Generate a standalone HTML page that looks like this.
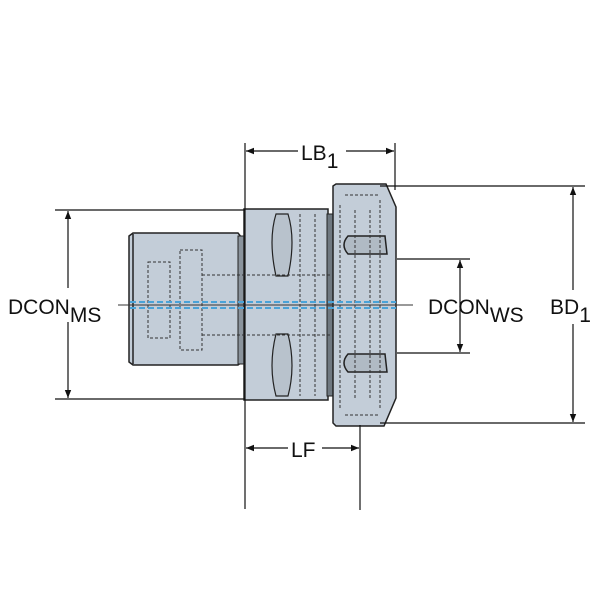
<!DOCTYPE html>
<html><head><style>
html,body{margin:0;padding:0;background:#fff;}
svg{display:block}
text{font-family:"Liberation Sans",Arial,sans-serif;fill:#111}
</style></head><body>
<svg width="600" height="600" viewBox="0 0 600 600" xmlns="http://www.w3.org/2000/svg">
<defs>
<marker id="a" viewBox="0 0 10 10" refX="10" refY="5" markerWidth="10" markerHeight="8" orient="auto-start-reverse" markerUnits="userSpaceOnUse"><path d="M0,1 L10,5 L0,9 Z" fill="#111"/></marker>
</defs>
<!-- shank -->
<path d="M129,236 L133,233 L238,233 L242,238 L242,362 L238,365 L133,365 L129,362 Z" fill="#c3cdd8" stroke="#222" stroke-width="1.5"/>
<line x1="133" y1="234" x2="133" y2="364" stroke="#222" stroke-width="1.5"/>
<rect x="238" y="236" width="6" height="128" fill="#8a939c" stroke="#222" stroke-width="1"/>
<!-- body -->
<rect x="244" y="209" width="84" height="191" fill="#c3cdd8" stroke="#222" stroke-width="1.5"/>
<rect x="327" y="214" width="6" height="182" fill="#6f7880" stroke="#222" stroke-width="1"/>
<path d="M276,214 Q268,240 276,276 L288,276 Q296,240 288,214 Z" fill="#b8c2cc" stroke="#222" stroke-width="1.2"/>
<path d="M276,334 Q268,366 276,396 L288,396 Q296,366 288,334 Z" fill="#b8c2cc" stroke="#222" stroke-width="1.2"/>
<!-- flange -->
<path d="M333,186 L336,184 L386,184 L396,207 L396,398 L384,426 L336,426 L333,423 Z" fill="#c3cdd8" stroke="#222" stroke-width="1.5"/>
<path d="M348,236 L385,236 L387,254 L348,254 Q340,245 348,236 Z" fill="#b0bac4" stroke="#222" stroke-width="1.5"/>
<path d="M348,354 L385,354 L387,372 L348,372 Q340,363 348,354 Z" fill="#b0bac4" stroke="#222" stroke-width="1.5"/>
<g fill="none" stroke="#333" stroke-width="1" stroke-dasharray="3,2">
<rect x="148" y="262" width="22" height="76"/><rect x="180" y="250" width="22" height="100"/>
<path d="M202,275 H330 M202,335 H330 M300,214 V396 M315,214 V396 M340,205 V410 M355,210 V400 M370,210 V400 M380,200 V410 M345,195 H380 M345,415 H380"/>
</g>
<!-- centerline -->
<line x1="118" y1="305" x2="413" y2="305" stroke="#333" stroke-width="1"/>
<line x1="130" y1="302" x2="396" y2="302" stroke="#4aa3d8" stroke-width="2" stroke-dasharray="6,3"/>
<line x1="130" y1="308" x2="396" y2="308" stroke="#4aa3d8" stroke-width="2" stroke-dasharray="6,3"/>
<!-- extension lines -->
<g stroke="#111" stroke-width="1.2">
<line x1="245" y1="143" x2="245" y2="509"/>
<line x1="395" y1="143" x2="395" y2="190"/>
<line x1="360" y1="425" x2="360" y2="510"/>
<line x1="55" y1="210" x2="245" y2="210"/>
<line x1="55" y1="399" x2="245" y2="399"/>
<line x1="397" y1="259" x2="470" y2="259"/>
<line x1="397" y1="353" x2="470" y2="353"/>
<line x1="380" y1="186" x2="585" y2="186"/>
<line x1="380" y1="423" x2="585" y2="423"/>
</g>
<!-- dimension lines -->
<g stroke="#111" stroke-width="1.2" fill="none">
<line x1="246" y1="151" x2="298" y2="151" marker-start="url(#a)"/>
<line x1="346" y1="151" x2="394" y2="151" marker-end="url(#a)"/>
<line x1="246" y1="448" x2="288" y2="448" marker-start="url(#a)"/>
<line x1="322" y1="448" x2="359" y2="448" marker-end="url(#a)"/>
<line x1="68" y1="211" x2="68" y2="398" marker-start="url(#a)" marker-end="url(#a)"/>
<line x1="460" y1="260" x2="460" y2="352" marker-start="url(#a)" marker-end="url(#a)"/>
<line x1="573" y1="187" x2="573" y2="422" marker-start="url(#a)" marker-end="url(#a)"/>
</g>
<!-- labels -->
<rect x="6" y="288" width="106" height="34" fill="#fff"/>
<text x="8" y="314" font-size="21">DCON<tspan font-size="21" dy="8">MS</tspan></text>
<text x="428" y="314" font-size="21">DCON<tspan dy="8">WS</tspan></text>
<rect x="548" y="290" width="50" height="34" fill="#fff"/>
<text x="550" y="314" font-size="21">BD<tspan dy="8">1</tspan></text>
<text x="301" y="160" font-size="21">LB<tspan dy="8">1</tspan></text>
<text x="291" y="457" font-size="21">LF</text>
</svg>
</body></html>
